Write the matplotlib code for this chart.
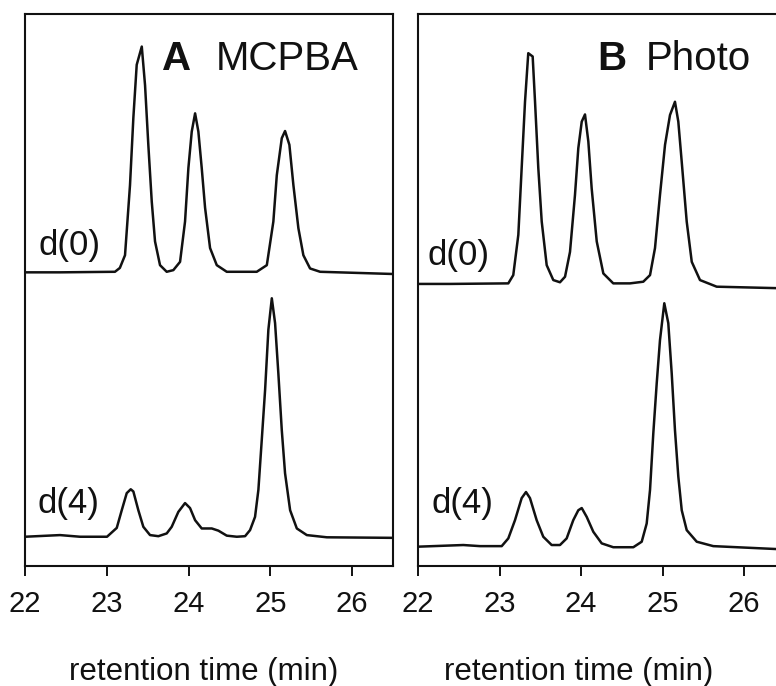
import matplotlib
matplotlib.use("Agg")
import matplotlib.pyplot as plt

plt.rcParams['font.family'] = ['Liberation Sans', 'DejaVu Sans']

# ---------------- data ----------------
# Panel A (MCPBA), trace d(0)
a0_time = [22.00, 22.43, 23.10, 23.16, 23.223, 23.284, 23.325, 23.366, 23.428, 23.468,
           23.508, 23.550, 23.590, 23.651, 23.733, 23.814, 23.896, 23.957, 23.998, 24.039,
           24.080, 24.120, 24.161, 24.202, 24.263, 24.345, 24.467, 24.834, 24.957, 25.037,
           25.079, 25.140, 25.180, 25.233, 25.282, 25.343, 25.404, 25.486, 25.609, 26.50]
a0_signal = [53.2, 53.2, 53.3, 54.0, 56.3, 69.0, 81.2, 90.8, 94.1, 87.1,
             76.3, 66.0, 58.8, 54.5, 53.3, 53.6, 55.1, 62.4, 72.1, 78.7,
             82.0, 78.7, 72.1, 64.9, 57.6, 54.5, 53.3, 53.3, 54.5, 62.4,
             70.8, 77.5, 78.8, 76.3, 69.0, 61.2, 56.3, 53.9, 53.3, 52.9]

# Panel A (MCPBA), trace d(4)
a4_time = [22.00, 22.428, 22.673, 23.003, 23.122, 23.183, 23.244, 23.293, 23.325, 23.386,
           23.447, 23.529, 23.631, 23.733, 23.794, 23.875, 23.957, 24.018, 24.080, 24.161,
           24.284, 24.365, 24.467, 24.590, 24.691, 24.752, 24.813, 24.854, 24.895, 24.936,
           24.976, 25.018, 25.058, 25.098, 25.140, 25.180, 25.242, 25.324, 25.446, 25.691,
           26.50]
a4_signal = [5.3, 5.6, 5.3, 5.3, 6.9, 10.1, 13.2, 13.9, 13.5, 10.1,
             7.1, 5.6, 5.4, 5.9, 7.1, 9.8, 11.4, 10.5, 8.3, 6.8,
             6.8, 6.4, 5.5, 5.3, 5.4, 6.5, 8.9, 13.8, 22.8, 31.9,
             42.8, 48.5, 44.0, 34.9, 24.6, 16.8, 10.1, 6.8, 5.6, 5.2,
             5.1]

# Panel B (Photo), trace d(0)
b0_time = [22.00, 22.393, 23.108, 23.169, 23.231, 23.272, 23.313, 23.353, 23.407, 23.436,
           23.476, 23.518, 23.579, 23.660, 23.742, 23.804, 23.865, 23.926, 23.967, 24.009,
           24.049, 24.090, 24.131, 24.193, 24.274, 24.396, 24.601, 24.764, 24.847, 24.908,
           24.969, 25.031, 25.092, 25.153, 25.194, 25.236, 25.297, 25.359, 25.460, 25.665,
           26.50]
b0_signal = [51.1, 51.1, 51.2, 52.7, 60.0, 72.1, 84.1, 92.9, 92.3, 84.1,
             72.1, 62.4, 54.5, 51.8, 51.4, 52.4, 56.9, 67.2, 75.7, 80.5,
             81.8, 76.9, 68.4, 58.8, 53.0, 51.2, 51.2, 51.5, 52.7, 57.6,
             67.2, 76.3, 81.7, 84.1, 80.5, 73.2, 62.4, 55.1, 51.8, 50.6,
             50.3]

# Panel B (Photo), trace d(4)
b4_time = [22.00, 22.556, 22.761, 23.027, 23.108, 23.190, 23.272, 23.325, 23.374, 23.456,
           23.537, 23.640, 23.742, 23.824, 23.905, 23.967, 24.009, 24.070, 24.151, 24.254,
           24.396, 24.642, 24.745, 24.806, 24.847, 24.887, 24.929, 24.969, 25.022, 25.071,
           25.113, 25.153, 25.194, 25.236, 25.297, 25.420, 25.623, 26.50]
b4_signal = [3.5, 3.8, 3.6, 3.6, 5.0, 8.3, 12.3, 13.4, 12.3, 8.3,
             5.3, 3.8, 3.8, 5.0, 8.3, 10.1, 10.5, 8.9, 6.2, 4.1,
             3.4, 3.4, 4.4, 7.7, 13.8, 24.0, 33.1, 40.9, 47.6, 44.0,
             34.9, 24.6, 16.2, 10.1, 6.5, 4.4, 3.6, 3.0]

ticks = [22, 23, 24, 25, 26]
tick_labels = ["22", "23", "24", "25", "26"]
panel_letters = ["A", "B"]
panel_titles = ["MCPBA", "Photo"]
trace_labels = ["d(0)", "d(4)"]
xlabel = "retention time (min)"

# ---------------- figure ----------------
W, H = 776, 686
fig = plt.figure(figsize=(W / 100, H / 100), dpi=100)
col = "#111111"

def ax_rect(left_px, right_px, top_px, bottom_px):
    return [left_px / W, (H - bottom_px) / H, (right_px - left_px) / W, (bottom_px - top_px) / H]

axA = fig.add_axes(ax_rect(25, 393, 14, 566))
axB = fig.add_axes(ax_rect(418, 784.75, 14, 566))

panels = [
    (axA, a0_time, a0_signal, a4_time, a4_signal),
    (axB, b0_time, b0_signal, b4_time, b4_signal),
]

letter_x = [23.67, 24.20]
title_x = [24.33, 24.80]
lab_x = [[22.16, 22.15], [22.12, 22.17]]
lab_y = [[56.3, 9.6], [54.5, 9.6]]

for i, (ax, t0, s0, t4, s4) in enumerate(panels):
    ax.plot(t0, s0, color=col, lw=1.8, solid_joinstyle='round')
    ax.plot(t4, s4, color=col, lw=1.8, solid_joinstyle='round')
    ax.set_xlim(22, 26.5)
    ax.set_ylim(0, 100)
    ax.set_xticks(ticks)
    ax.set_xticklabels(tick_labels)
    ax.set_yticks([])
    ax.tick_params(axis='x', direction='out', length=7.5, width=1.4, pad=10,
                   labelsize=21, colors=col)
    for sp in ax.spines.values():
        sp.set_linewidth(1.5)
        sp.set_color(col)
    ax.text(letter_x[i], 89.9, panel_letters[i], fontsize=29, fontweight='bold',
            color=col, va='baseline', ha='left')
    ax.text(title_x[i], 89.9, panel_titles[i], fontsize=29, color=col,
            va='baseline', ha='left')
    for j in range(2):
        ax.text(lab_x[i][j], lab_y[i][j], trace_labels[j], fontsize=25, color=col,
                va='baseline', ha='left')

fig.text(204 / W, 1 - 680 / H, xlabel, fontsize=22.5, color=col, ha='center', va='baseline')
fig.text(579 / W, 1 - 680 / H, xlabel, fontsize=22.5, color=col, ha='center', va='baseline')

fig.savefig("out.png", dpi=100)
